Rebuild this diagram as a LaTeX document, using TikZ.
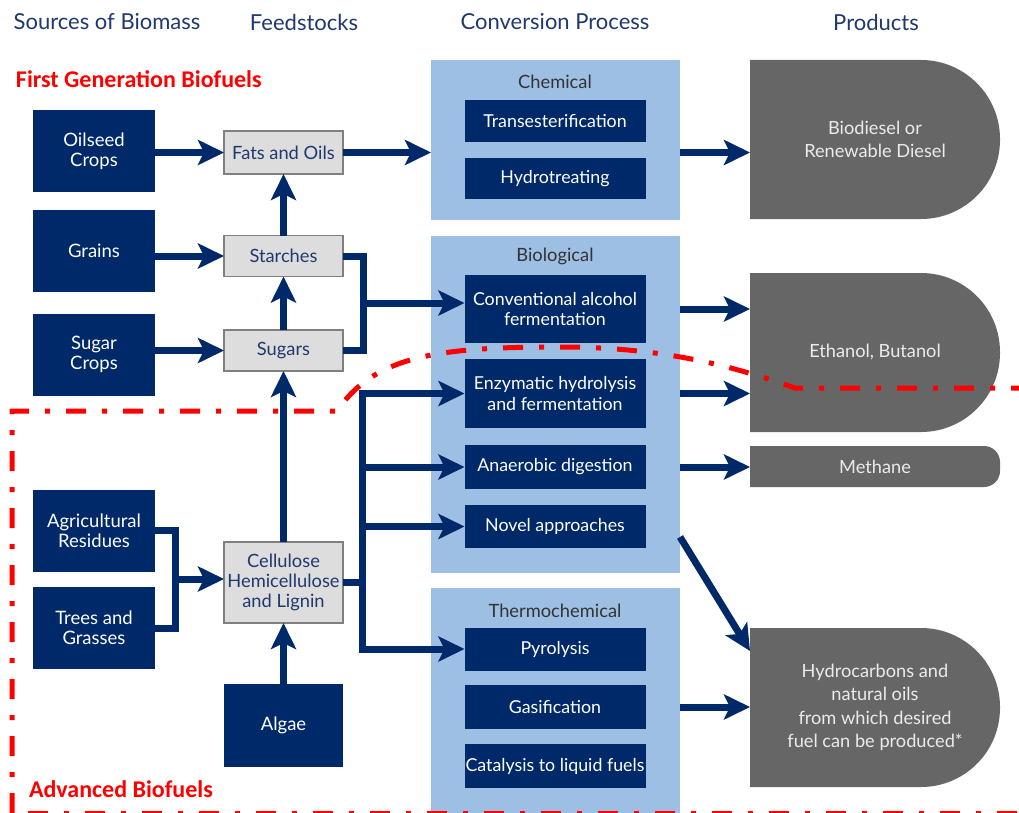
\documentclass[tikz,border=0pt]{standalone}
\usepackage{fontspec}
\setmainfont{Lato}
\newfontfamily\redfont{Carlito}
\usetikzlibrary{arrows.meta,backgrounds}
\definecolor{navy}{RGB}{0,41,106}
\definecolor{hdr}{RGB}{31,56,110}
\definecolor{panelblue}{RGB}{157,191,227}
\definecolor{prodgray}{RGB}{102,102,102}
\definecolor{feedfill}{RGB}{221,221,221}
\definecolor{feedline}{RGB}{128,128,128}
\definecolor{paneltext}{RGB}{51,51,51}
\newcommand{\dshape}[2]{%
  \fill[prodgray] (#1.north west) -- ([xshift=-#2pt]#1.north east)
    arc[start angle=-90,end angle=0,radius=#2] -- ([yshift=#2pt]#1.south east)
    arc[start angle=0,end angle=90,radius=#2] -- (#1.south west) -- cycle;}
\begin{document}
\begin{tikzpicture}[x=1pt,y=-1pt,
  every node/.style={inner sep=0pt, outer sep=0pt},
  src/.style={fill=navy, text=white, minimum width=122pt, minimum height=82pt, align=center, font=\fontsize{18.5}{20}\selectfont},
  feed/.style={fill=feedfill, draw=feedline, line width=1.5pt, text=hdr, minimum width=119pt, align=center, font=\fontsize{18.3}{20}\selectfont},
  proc/.style={fill=navy, text=white, minimum width=181pt, align=center, font=\fontsize{17.8}{20.5}\selectfont},
  panel/.style={fill=panelblue, minimum width=249pt},
  paneltitle/.style={text=paneltext, font=\fontsize{18.3}{20}\selectfont},
  prod/.style={text=white!92!black, minimum width=250pt, align=center, font=\fontsize{18.2}{23.5}\selectfont},
  header/.style={text=hdr, font=\fontsize{22}{24}\selectfont},
  redlabel/.style={text=red, font=\redfont\bfseries\fontsize{24}{26}\selectfont, anchor=west},
  conn/.style={draw=navy, line width=7pt, line join=miter},
  arr/.style={conn, -{Stealth[length=26pt,width=25pt,inset=6pt]}},
  border/.style={draw=red, line width=5pt, dash pattern=on 20pt off 16pt on 5pt off 16pt}
]
\useasboundingbox (0,0) rectangle (1019,813);

% headers
\node[header] (h1) at (107,22) {Sources of Biomass};
\node[header] (h2) at (304,22) {Feedstocks};
\node[header] (h3) at (555,22) {Conversion Process};
\node[header] (h4) at (876,22) {Products};

\node[redlabel] (first) at (16,79) {First Generation Biofuels};
\node[redlabel] (adv) at (29,789) {Advanced Biofuels};

% sources
\node[src] (oil) at (94,151) {Oilseed\\Crops};
\node[src] (grains) at (94,251) {Grains};
\node[src] (sugarc) at (94,354.5) {Sugar\\Crops};
\node[src] (agri) at (94,530.5) {Agricultural\\Residues};
\node[src] (trees) at (94,628) {Trees and\\Grasses};

% feedstocks
\node[feed, minimum height=43pt] (fats) at (283.5,152.5) {Fats and Oils};
\node[feed, minimum height=41pt] (starch) at (283.5,256) {Starches};
\node[feed, minimum height=41pt] (sugars) at (283.5,350.5) {Sugars};
\node[feed, minimum height=81pt] (cell) at (283.5,582.5) {Cellulose\\Hemicellulose\\and Lignin};
\node[src, minimum width=119pt, minimum height=83pt] (algae) at (283.5,725) {Algae};

% panels
\node[panel, minimum height=160pt] (chem) at (555.5,140) {};
\node[panel, minimum height=337pt] (bio) at (555.5,404.5) {};
\node[panel, minimum height=226pt] (thermo) at (555.5,701) {};
\node[paneltitle] (chemt) at (555,82) {Chemical};
\node[paneltitle] (biot) at (555,256) {Biological};
\node[paneltitle] (thermot) at (555,611) {Thermochemical};

% processes
\node[proc, minimum height=42pt] (trans) at (555,121) {Transesterification};
\node[proc, minimum height=41pt] (hydro) at (555,178.5) {Hydrotreating};
\node[proc, minimum height=68pt] (conv) at (555,309) {Conventional alcohol\\fermentation};
\node[proc, minimum height=69pt] (enz) at (555,393.5) {Enzymatic hydrolysis\\and fermentation};
\node[proc, minimum height=44pt] (anaer) at (555,467) {Anaerobic digestion};
\node[proc, minimum height=43pt] (novel) at (555,526.5) {Novel approaches};
\node[proc, minimum height=43pt] (pyro) at (555,649) {Pyrolysis};
\node[proc, minimum height=44pt] (gas) at (555,707) {Gasification};
\node[proc, minimum height=44pt] (cat) at (555,766) {Catalysis to liquid fuels};

% products
\node[prod, minimum height=159pt] (biod) at (875,139.5) {Biodiesel or\\Renewable Diesel};
\node[prod, minimum height=159pt] (eth) at (875,352.5) {Ethanol, Butanol};
\node[prod, minimum height=41pt] (meth) at (875,466.5) {Methane};
\node[prod, minimum height=159pt] (hyd) at (875,707.5) {Hydrocarbons and\\natural oils\\from which desired\\fuel can be produced*};

\begin{scope}[on background layer]
  \fill[white] (0,0) rectangle (1019,813);
  \dshape{biod}{79}
  \dshape{eth}{79}
  \dshape{meth}{16}
  \dshape{hyd}{79}
\end{scope}

% coordinates
\coordinate (jS) at (363,303);
\coordinate (jC) at (362,582.5);
\coordinate (jA) at (175,579);
\coordinate (nd) at (680,537);
\coordinate (hydin) at (750,651);

% connectors left
\draw[arr] (oil.east |- fats) -- (fats.west);
\draw[arr] (grains.east |- starch) -- (starch.west);
\draw[arr] (sugarc.east |- sugars) -- (sugars.west);
\draw[arr] (fats.east) -- (fats -| chem.west);
\draw[arr] (starch.north) -- (fats.south);
\draw[arr] (sugars.north) -- (starch.south);
\draw[arr] (cell.north) -- (sugars.south);
\draw[arr] (algae.north) -- (cell.south);
\draw[conn] (starch.east) -| (jS) |- (sugars.east);
\draw[arr] (jS) -- (jS -| conv.west);
\draw[conn] (agri.east) -| (jA) |- (trees.east);
\draw[arr] (jA) -- (jA -| cell.west);
\draw[conn] (cell.east) -- (jC);
\draw[arr] (jC) |- (enz.west);
\draw[arr] (jC) |- (anaer.west);
\draw[arr] (jC) |- (novel.west);
\draw[arr] (jC) |- (pyro.west);

% connectors right
\draw[arr] (fats -| chem.east) -- (fats -| biod.west);
\draw[arr] (conv -| bio.east) -- (conv -| eth.west);
\draw[arr] (enz -| bio.east) -- (enz -| eth.west);
\draw[arr] (anaer -| bio.east) -- (anaer -| meth.west);
\draw[arr] (nd) -- (hydin);
\draw[arr] (gas -| thermo.east) -- (gas -| hyd.west);

% red boundary
\draw[border] (12,813) -- (12,411) -- (337,411) .. controls (375,355) and (440,347) .. (560,347) .. controls (660,347) and (730,365) .. (795,388) -- (1019,388);
\draw[border] (28,813) -- (1019,813);
\end{tikzpicture}
\end{document}
